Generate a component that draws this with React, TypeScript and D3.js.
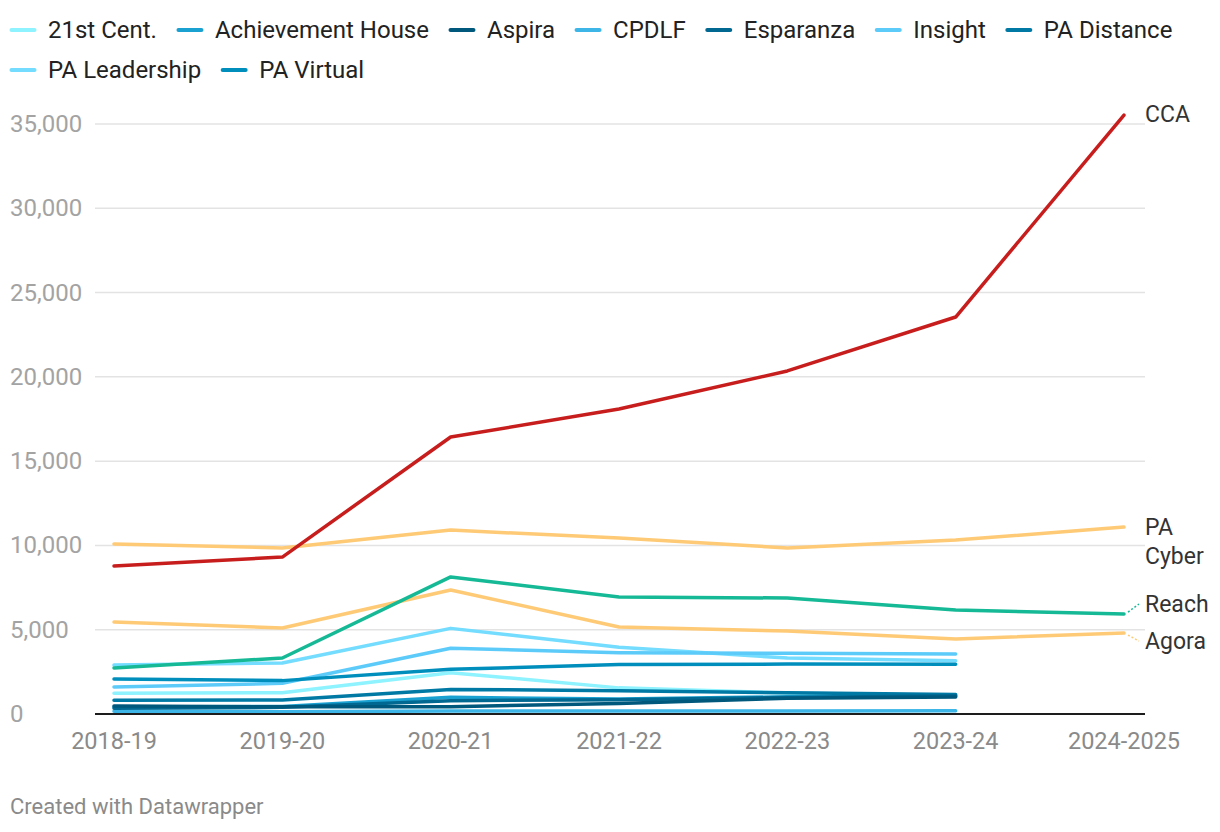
import { useEffect, useRef } from "react"
import * as d3 from "d3"

const years = ["2018-19", "2019-20", "2020-21", "2021-22", "2022-23", "2023-24", "2024-2025"]
const yTicks = [0, 5000, 10000, 15000, 20000, 25000, 30000, 35000]

// small schools (end at 2023-24)
const cent21 = [1230, 1260, 2450, 1550, 1250, 1100]
const achievement = [420, 450, 990, 890, 1020, 1050]
const aspira = [470, 430, 430, 630, 930, 1010]
const cpdlf = [160, 140, 180, 180, 180, 200]
const esparanza = [340, 400, 790, 850, 980, 1080]
const insight = [1600, 1820, 3900, 3640, 3600, 3560]
const paDistance = [810, 830, 1460, 1380, 1260, 1150]
const paLeadership = [2900, 3030, 5080, 3960, 3320, 3160]
const paVirtual = [2080, 1980, 2650, 2930, 2960, 2950]

// big schools (labelled at the right)
const cca = [8780, 9310, 16430, 18090, 20350, 23550, 35530]
const paCyber = [10090, 9850, 10910, 10440, 9850, 10320, 11090]
const reach = [2730, 3320, 8130, 6940, 6880, 6170, 5930]
const agora = [5460, 5100, 7360, 5160, 4920, 4450, 4800]

const legendNames = ["21st Cent.", "Achievement House", "Aspira", "CPDLF", "Esparanza", "Insight", "PA Distance", "PA Leadership", "PA Virtual"]
const legendColors = ["#8ef2ff", "#1ba1d1", "#00587d", "#3db6e7", "#006891", "#5ccbfa", "#0079a5", "#73dcff", "#008fbd"]
const legendValues = [cent21, achievement, aspira, cpdlf, esparanza, insight, paDistance, paLeadership, paVirtual]

const bigNames = ["Agora", "PA Cyber", "Reach", "CCA"]
const bigColors = ["#ffca76", "#ffca76", "#16b995", "#c71e1d"]
const bigValues = [agora, paCyber, reach, cca]

export default function App() {
  const svgRef = useRef(null)

  useEffect(() => {
    if (!svgRef.current) return
    const svg = d3.select(svgRef.current)
    svg.selectAll("*").remove()

    const width = 1220
    const height = 832
    const font = "Roboto, 'Noto Sans', sans-serif"

    const x = d3.scalePoint().domain(years).range([114, 1124])
    const y = d3.scaleLinear().domain([0, 35000]).range([714, 124])
    const plotLeft = 95
    const plotRight = 1145

    // grid
    svg.append("g")
      .selectAll("line")
      .data(yTicks.filter((d) => d > 0))
      .enter()
      .append("line")
      .attr("x1", plotLeft)
      .attr("x2", plotRight)
      .attr("y1", (d) => y(d))
      .attr("y2", (d) => y(d))
      .attr("stroke", "#e3e3e3")
      .attr("stroke-width", 1.5)

    svg.append("g")
      .selectAll("text")
      .data(yTicks)
      .enter()
      .append("text")
      .attr("x", 10)
      .attr("y", (d) => y(d))
      .attr("dominant-baseline", "central")
      .attr("font-family", font)
      .attr("font-size", 24)
      .attr("fill", "#a3a3a3")
      .text((d) => d3.format(",")(d))

    // x labels
    svg.append("g")
      .selectAll("text")
      .data(years)
      .enter()
      .append("text")
      .attr("x", (d) => x(d))
      .attr("y", 741)
      .attr("dominant-baseline", "central")
      .attr("text-anchor", "middle")
      .attr("font-family", font)
      .attr("font-size", 23.5)
      .attr("fill", "#8a8a8a")
      .text((d) => d)

    const line = d3
      .line<number>()
      .x((_, i) => x(years[i]))
      .y((d) => y(d))

    const lines = svg.append("g").attr("fill", "none").attr("stroke-width", 3.5).attr("stroke-linejoin", "round").attr("stroke-linecap", "round")

    // lighter series first, darker on top
    const order = [0, 7, 5, 3, 1, 8, 6, 4, 2]
    order.forEach((i) => {
      lines.append("path").attr("d", line(legendValues[i])).attr("stroke", legendColors[i])
    })
    bigValues.forEach((v, i) => {
      lines.append("path").attr("d", line(v)).attr("stroke", bigColors[i])
    })

    // baseline
    svg.append("line")
      .attr("x1", plotLeft)
      .attr("x2", plotRight)
      .attr("y1", y(0))
      .attr("y2", y(0))
      .attr("stroke", "#1d1d1d")
      .attr("stroke-width", 2)

    // right labels
    const lastYear = years[years.length - 1]
    const labels = [
      { lines: ["CCA"], y: 114, anchor: y(cca[6]) },
      { lines: ["PA", "Cyber"], y: 527, anchor: y(paCyber[6]) },
      { lines: ["Reach"], y: 604, anchor: y(reach[6]), connector: true },
      { lines: ["Agora"], y: 641, anchor: y(agora[6]), connector: true },
    ]
    labels.forEach((l) => {
      const t = svg.append("text")
        .attr("font-family", font)
        .attr("font-size", 23)
        .attr("fill", "#333")
        .attr("dominant-baseline", "central")
      l.lines.forEach((s, k) => {
        t.append("tspan").attr("x", 1145).attr("y", l.y + k * 29).text(s)
      })
      if (l.connector) {
        const c = bigColors[bigNames.indexOf(l.lines[0])]
        svg.append("line")
          .attr("x1", x(lastYear) + 4)
          .attr("y1", l.anchor + (l.y < l.anchor ? -2 : 2))
          .attr("x2", 1139)
          .attr("y2", l.y)
          .attr("stroke", c)
          .attr("stroke-width", 1.5)
          .attr("stroke-dasharray", "2,2")
      }
    })

    // legend
    const legend = svg.append("g")
    let lx = 10
    let ly = 30
    legendNames.forEach((name, i) => {
      const g = legend.append("g")
      const txt = g.append("text")
        .attr("x", 38)
        .attr("y", 0)
        .attr("dominant-baseline", "central")
        .attr("font-family", font)
        .attr("font-size", 24)
        .attr("fill", "#222")
        .text(name)
      const w = 38 + (txt.node() as SVGTextElement).getComputedTextLength()
      if (lx + w > 1200) {
        lx = 10
        ly += 40
      }
      g.attr("transform", `translate(${lx},${ly})`)
      g.append("line")
        .attr("x1", 1.5)
        .attr("x2", 24.5)
        .attr("y1", 0)
        .attr("y2", 0)
        .attr("stroke", legendColors[i])
        .attr("stroke-width", 4)
        .attr("stroke-linecap", "round")
      lx += w + 20
    })

    svg.append("text")
      .attr("x", 10)
      .attr("y", 806)
      .attr("dominant-baseline", "central")
      .attr("font-family", font)
      .attr("font-size", 22)
      .attr("fill", "#8a8a8a")
      .text("Created with Datawrapper")

    svg.attr("width", width).attr("height", height).attr("viewBox", [0, 0, width, height])
  }, [])

  return <svg ref={svgRef} style={{ position: "absolute", left: 0, top: 0, background: "#fff" }}></svg>
}
